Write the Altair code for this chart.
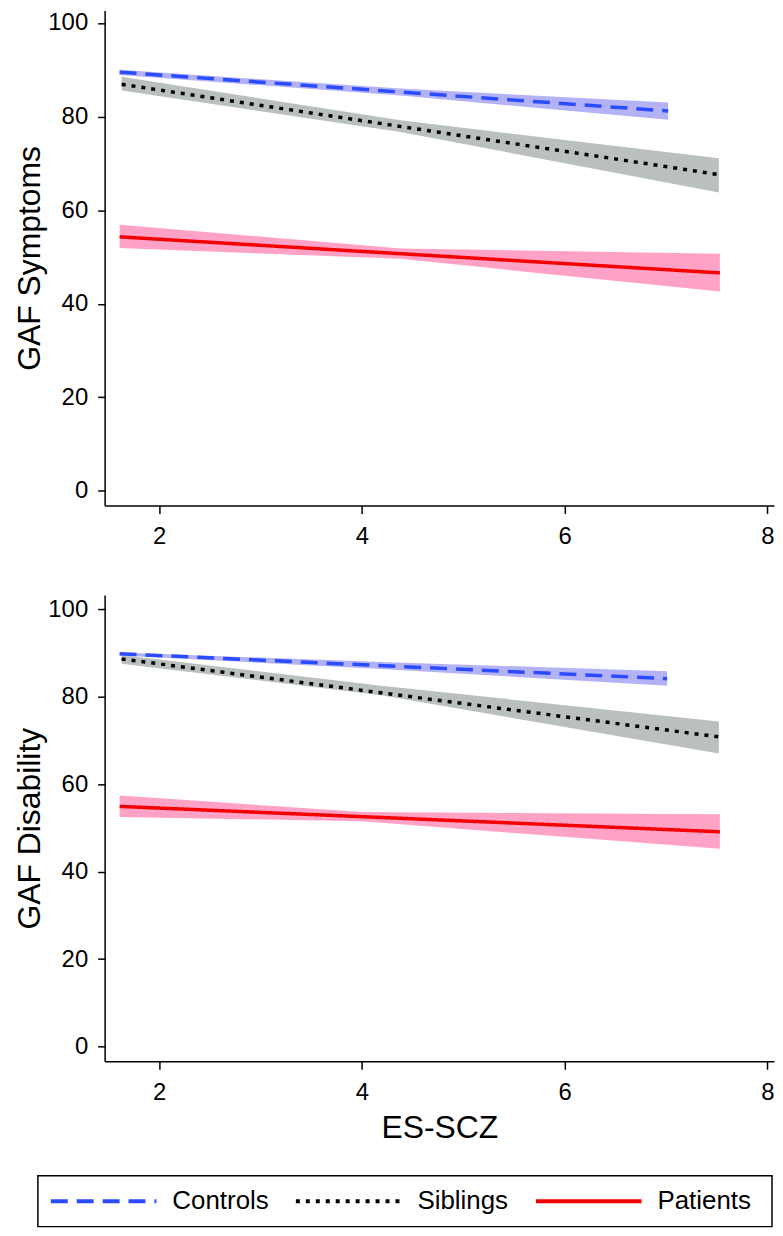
import altair as alt
import pandas as pd

groups = ["Controls", "Siblings", "Patients"]
band_groups = ["Controls CI", "Siblings CI", "Patients CI"]
line_colors = ["#2a4bff", "#000000", "#f50000"]
band_colors = ["#b4b2f6", "#b9c0bd", "#ffa2c6"]
dash_styles = [[17, 9], [4, 6], [1, 0]]

x_ticks = [2, 4, 6, 8]
y_ticks = [0, 20, 40, 60, 80, 100]

# ---------- Panel 1: GAF Symptoms ----------
sym_controls_x = [1.61, 7.02]
sym_controls_y = [89.5, 81.2]
sym_controls_band_x = [1.61, 4.38, 7.02]
sym_controls_lo = [88.9, 84.5, 79.3]
sym_controls_hi = [90.0, 86.0, 83.0]

sym_siblings_x = [1.63, 7.52]
sym_siblings_y = [86.9, 67.6]
sym_siblings_band_x = [1.63, 4.38, 7.52]
sym_siblings_lo = [85.6, 76.7, 63.8]
sym_siblings_hi = [88.5, 79.2, 71.1]

sym_patients_x = [1.61, 7.53]
sym_patients_y = [54.3, 46.6]
sym_patients_band_x = [1.61, 4.38, 7.53]
sym_patients_lo = [51.9, 49.6, 42.6]
sym_patients_hi = [56.9, 51.8, 50.7]

# ---------- Panel 2: GAF Disability ----------
dis_controls_x = [1.61, 7.01]
dis_controls_y = [89.8, 84.1]
dis_controls_band_x = [1.61, 4.19, 7.01]
dis_controls_lo = [89.4, 86.3, 82.5]
dis_controls_hi = [90.1, 87.9, 85.8]

dis_siblings_x = [1.63, 7.52]
dis_siblings_y = [88.6, 70.8]
dis_siblings_band_x = [1.63, 4.19, 7.52]
dis_siblings_lo = [87.5, 80.3, 67.0]
dis_siblings_hi = [89.5, 82.5, 74.3]

dis_patients_x = [1.61, 7.53]
dis_patients_y = [54.9, 49.1]
dis_patients_band_x = [1.61, 4.0, 7.53]
dis_patients_lo = [52.5, 51.5, 45.2]
dis_patients_hi = [57.4, 53.6, 53.1]


def line_df(parts):
    rows = []
    for g, xs, ys in parts:
        for xv, yv in zip(xs, ys):
            rows.append({"group": g, "x": xv, "y": yv})
    return pd.DataFrame(rows)


def band_df(parts):
    rows = []
    for g, xs, lo, hi in parts:
        for xv, l, h in zip(xs, lo, hi):
            rows.append({"band": g + " CI", "x": xv, "lo": l, "hi": h})
    return pd.DataFrame(rows)


sym_lines = line_df([
    ("Controls", sym_controls_x, sym_controls_y),
    ("Siblings", sym_siblings_x, sym_siblings_y),
    ("Patients", sym_patients_x, sym_patients_y),
])
sym_bands = band_df([
    ("Siblings", sym_siblings_band_x, sym_siblings_lo, sym_siblings_hi),
    ("Controls", sym_controls_band_x, sym_controls_lo, sym_controls_hi),
    ("Patients", sym_patients_band_x, sym_patients_lo, sym_patients_hi),
])
dis_lines = line_df([
    ("Controls", dis_controls_x, dis_controls_y),
    ("Siblings", dis_siblings_x, dis_siblings_y),
    ("Patients", dis_patients_x, dis_patients_y),
])
dis_bands = band_df([
    ("Siblings", dis_siblings_band_x, dis_siblings_lo, dis_siblings_hi),
    ("Controls", dis_controls_band_x, dis_controls_lo, dis_controls_hi),
    ("Patients", dis_patients_band_x, dis_patients_lo, dis_patients_hi),
])

X_DOMAIN = [1.462, 8.064]
PLOT_W = 672


def panel(lines, bands, ytitle, ydomain, height, xtitle, legend):
    xaxis = alt.Axis(values=x_ticks, title=xtitle, tickSize=8, labelPadding=11,
                     titlePadding=9)
    yaxis = alt.Axis(values=y_ticks, title=ytitle, tickSize=7, labelPadding=10,
                     titlePadding=1)
    xs = alt.Scale(domain=X_DOMAIN, nice=False, zero=False)
    ys = alt.Scale(domain=ydomain, nice=False, zero=False)
    band = alt.Chart(bands).mark_area(opacity=1).encode(
        x=alt.X("x:Q", scale=xs, axis=xaxis),
        y=alt.Y("lo:Q", scale=ys, axis=yaxis),
        y2="hi:Q",
        fill=alt.Fill("band:N",
                      scale=alt.Scale(domain=band_groups, range=band_colors),
                      legend=None),
        detail="band:N",
    )
    line = alt.Chart(lines).mark_line(strokeWidth=3.5, strokeCap="butt").encode(
        x=alt.X("x:Q", scale=xs, axis=xaxis),
        y=alt.Y("y:Q", scale=ys, axis=yaxis),
        color=alt.Color("group:N", scale=alt.Scale(domain=groups, range=line_colors),
                        legend=legend, sort=groups),
        strokeDash=alt.StrokeDash("group:N",
                                  scale=alt.Scale(domain=groups, range=dash_styles),
                                  legend=legend, sort=groups),
    )
    return alt.layer(band, line).properties(width=PLOT_W, height=height)


bottom_legend = alt.Legend(
    title="\u00a0", titleOrient="right", titlePadding=10, titleFontSize=4,
    orient="none", legendX=-67, legendY=583, direction="horizontal",
)

top = panel(sym_lines, sym_bands, "GAF Symptoms", [-3.1, 102.7], 497, None, None)
bottom = panel(dis_lines, dis_bands, "GAF Disability", [-3.35, 103.2], 468,
               "ES-SCZ", bottom_legend)

chart = (
    alt.vconcat(top, bottom, spacing=47)
    .resolve_scale(color="independent", strokeDash="independent",
                   fill="independent")
    .resolve_legend(color="independent", strokeDash="independent",
                    fill="independent")
    .properties(padding={"left": 5, "top": 0, "right": 0, "bottom": 0})
    .configure_view(stroke=None)
    .configure_axis(
        grid=False,
        domainColor="#000000", domainWidth=1.5,
        tickColor="#000000", tickWidth=1.5,
        labelFont="Liberation Sans", labelFontSize=24, labelColor="#000000",
        titleFont="Liberation Sans", titleFontSize=32, titleFontWeight="normal",
        titleColor="#000000",
    )
    .configure_legend(
        padding=11, strokeColor="#000000", strokeWidth=1.5, fillColor="#ffffff",
        labelFont="Liberation Sans", labelFontSize=26, labelColor="#000000",
        labelOffset=14, columnPadding=25, symbolType="stroke",
        symbolSize=11236, symbolStrokeWidth=4, clipHeight=29,
        cornerRadius=0,
    )
)

chart.save("out.html", embed_options={"renderer": "svg", "actions": False})
